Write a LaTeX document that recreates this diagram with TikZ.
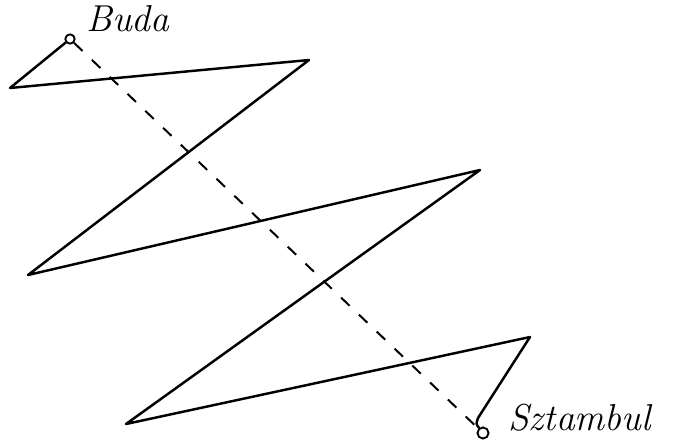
\documentclass[tikz,border=0pt]{standalone}
\usepackage{tikz}
\usetikzlibrary{positioning, calc}

\begin{document}
\begin{tikzpicture}[x=0.03cm, y=-0.03cm,
    pen/.style={line width=2.1pt, line join=round, line cap=round},
    town/.style={circle, draw, line width=1.6pt, inner sep=0pt, minimum size=#1},
    townname/.style={font=\fontsize{32}{34}\selectfont\itshape, inner sep=0pt}]
  \useasboundingbox (0,0) rectangle (675,445);

  % end points of the trip
  \node[town=8pt] (buda) at (70,39) {};
  \node[town=9.5pt] (sztambul) at (483,433) {};
  \node[townname, anchor=base west] (budalabel) at (86,31) {Buda};
  \node[townname, anchor=base west] (sztambullabel) at (508,430) {Sztambul};

  % turning points of the zigzag
  \coordinate (l1) at (10,88);
  \coordinate (r1) at (309,60);
  \coordinate (l2) at (28,275);
  \coordinate (r2) at (480,170);
  \coordinate (l3) at (126,424);
  \coordinate (r3) at (530,337);
  \coordinate (bend) at (478,418);

  % the straight way
  \draw[line width=1.7pt, dash pattern=on 10pt off 11pt] (buda) -- (sztambul);

  % the real way
  \draw[pen] (buda) -- (l1) -- (r1) -- (l2) -- (r2) -- (l3) -- (r3)
    -- (bend) .. controls (476,424) .. (sztambul);
\end{tikzpicture}
\end{document}
